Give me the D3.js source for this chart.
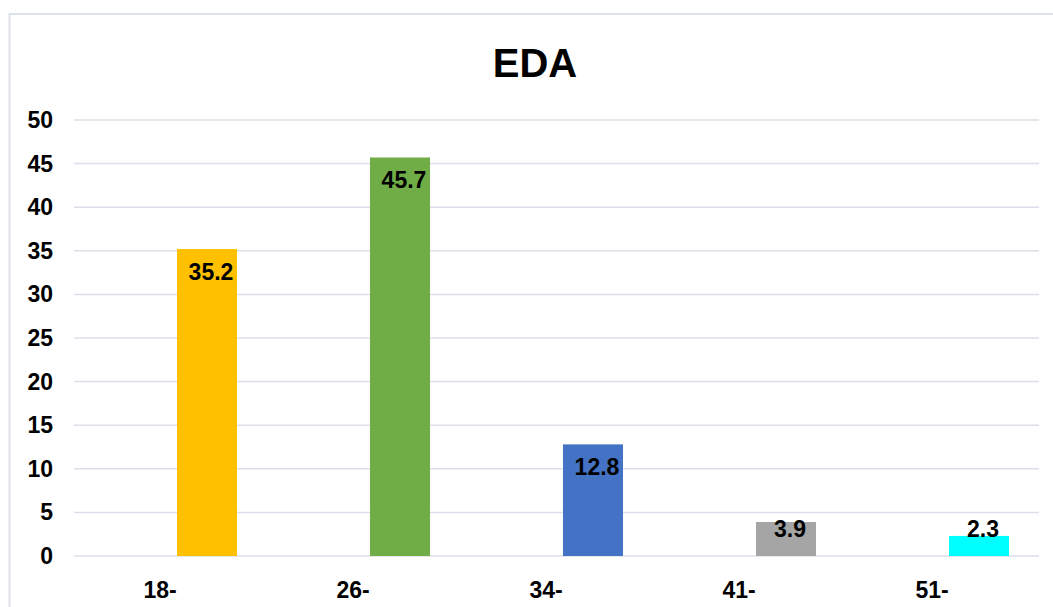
<!DOCTYPE html>
<html>
<head>
<meta charset="utf-8">
<script src="https://cdn.jsdelivr.net/npm/d3@7"></script>
<style>
  body { margin: 0; background: #fff; }
  text { font-family: "Liberation Sans", Arial, sans-serif; font-weight: bold; fill: #000; }
</style>
</head>
<body>
<div id="chart"></div>
<script>
// chart data
var categories = ["18-", "26-", "34-", "41-", "51-"];
var values = [35.2, 45.7, 12.8, 3.9, 2.3];
var colors = ["#ffc000", "#70ad47", "#4472c4", "#a5a5a5", "#00ffff"];
var yTicks = [0, 5, 10, 15, 20, 25, 30, 35, 40, 45, 50];

var width = 1053, height = 607;

//Make an SVG Container
var svg = d3.select("#chart").append("svg")
            .attr("width", width)
            .attr("height", height);

// outer chart border (only left + top show in the frame)
svg.append("rect")
   .attr("x", 9.5)
   .attr("y", 14)
   .attr("width", 1100)
   .attr("height", 700)
   .attr("fill", "none")
   .attr("stroke", "#dde1ec")
   .attr("stroke-width", 2);

var x = d3.scaleBand()
          .domain(categories)
          .range([74, 1039])
          .padding(0);

var y = d3.scaleLinear()
          .domain([0, 50])
          .range([556, 120]);

// gridlines
svg.append("g")
   .selectAll("line")
   .data(yTicks)
   .enter()
   .append("line")
   .attr("x1", 74)
   .attr("x2", 1039)
   .attr("y1", d => y(d))
   .attr("y2", d => y(d))
   .attr("stroke", "#dcdfea")
   .attr("stroke-width", 1.5);

// y tick labels
svg.append("g")
   .selectAll("text")
   .data(yTicks)
   .enter()
   .append("text")
   .attr("x", 53)
   .attr("y", d => y(d) + 8)
   .attr("text-anchor", "end")
   .style("font-size", "23px")
   .text(d => d);

// bars (sit right of band centre, like a clustered column)
var barW = 60, barOff = 103;
svg.append("g")
   .selectAll("rect")
   .data(values)
   .enter()
   .append("rect")
   .attr("x", (d, i) => x(categories[i]) + barOff)
   .attr("y", d => y(d))
   .attr("width", barW)
   .attr("height", d => y(0) - y(d))
   .attr("fill", (d, i) => colors[i]);

// value labels
svg.append("g")
   .selectAll("text")
   .data(values)
   .enter()
   .append("text")
   .attr("x", (d, i) => x(categories[i]) + barOff + barW / 2 + 4)
   .attr("y", d => Math.min(y(d) + 31, y(0) - 19))
   .attr("text-anchor", "middle")
   .style("font-size", "23px")
   .text(d => d.toFixed(1));

// category labels
svg.append("g")
   .selectAll("text")
   .data(categories)
   .enter()
   .append("text")
   .attr("x", d => x(d) + 86)
   .attr("y", 598)
   .attr("text-anchor", "middle")
   .style("font-size", "23px")
   .text(d => d);

// title
svg.append("text")
   .attr("x", 535)
   .attr("y", 77)
   .attr("text-anchor", "middle")
   .style("font-size", "40px")
   .text("EDA");
</script>
</body>
</html>
